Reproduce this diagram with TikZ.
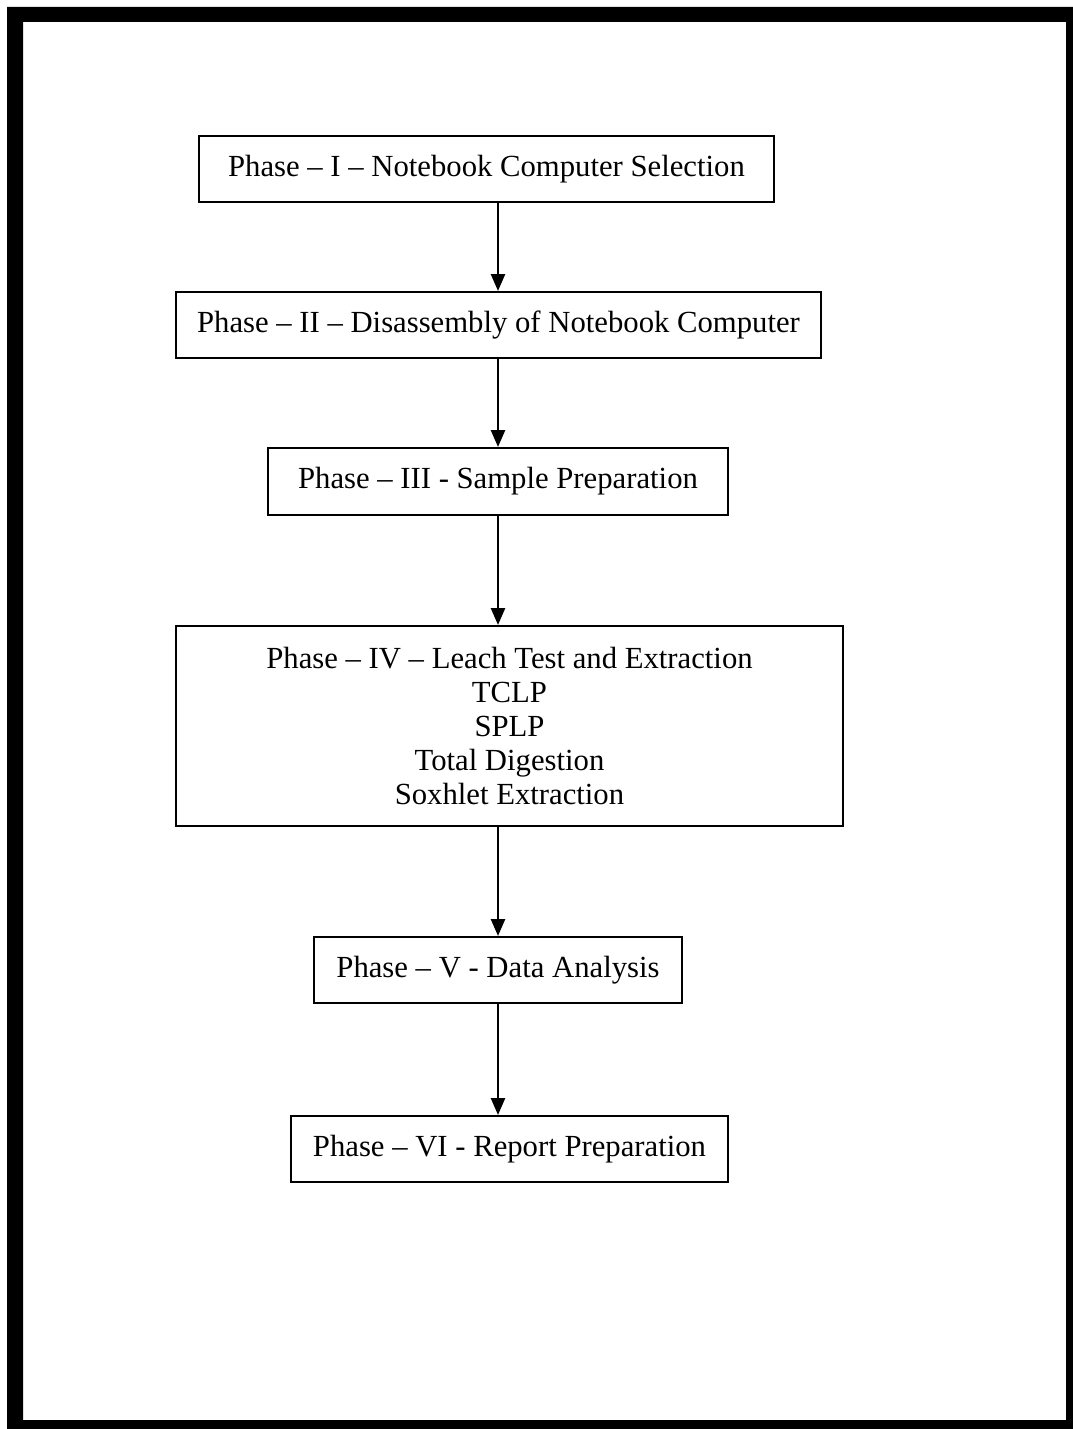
\documentclass[tikz,border=0pt]{standalone}
\usepackage{fontspec}
\setmainfont{Liberation Serif}
\usetikzlibrary{arrows.meta}
\tikzset{
  phase/.style={draw, line width=2pt, inner sep=0pt, align=center,
    font=\fontsize{30.7}{34}\selectfont},
  flow/.style={line width=2.6pt, -{Triangle[length=17pt,width=14pt]}}
}
\begin{document}
\begin{tikzpicture}[x=1pt,y=-1pt]
    \useasboundingbox (0,0) rectangle (1073,1429);
    \fill[white] (0,0) rectangle (1073,1429);
    \fill[black,even odd rule] (7,7) rectangle (1073,1429) (23,22) rectangle (1066,1420); %frame
    \node[phase, minimum width=575pt, minimum height=66pt] (p1) at (486.5,169) {Phase -- I -- Notebook Computer Selection};
    \node[phase, minimum width=645pt, minimum height=66pt] (p2) at (498.5,325) {Phase -- II -- Disassembly of Notebook Computer};
    \node[phase, minimum width=460pt, minimum height=67pt] (p3) at (498,481.5) {Phase -- III - Sample Preparation};
    \node[phase, minimum width=667pt, minimum height=200pt] (p4) at (509.5,726) {Phase -- IV -- Leach Test and Extraction\\TCLP\\SPLP\\Total Digestion\\Soxhlet Extraction};
    \node[phase, minimum width=368pt, minimum height=66pt] (p5) at (498,970) {Phase -- V - Data Analysis};
    \node[phase, minimum width=437pt, minimum height=66pt] (p6) at (509.5,1149) {Phase -- VI - Report Preparation};
    \coordinate (ax) at (498,0);
    \draw[flow] (p1.south -| ax) -- (p2.north -| ax);
    \draw[flow] (p2.south -| ax) -- (p3.north -| ax);
    \draw[flow] (p3.south -| ax) -- (p4.north -| ax);
    \draw[flow] (p4.south -| ax) -- (p5.north -| ax);
    \draw[flow] (p5.south -| ax) -- (p6.north -| ax);
\end{tikzpicture}
\end{document}
